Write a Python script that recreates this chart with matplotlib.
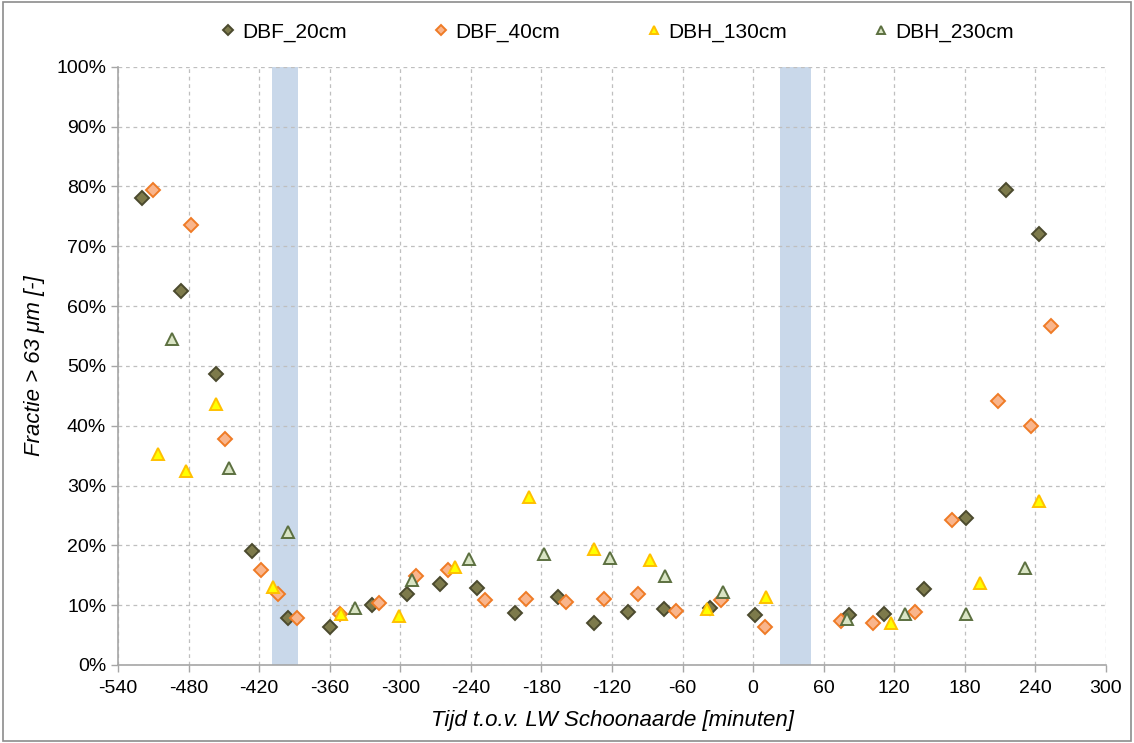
import matplotlib
matplotlib.use("Agg")
import matplotlib.pyplot as plt
from matplotlib.ticker import MultipleLocator, PercentFormatter
from matplotlib.patches import Rectangle

plt.rcParams['font.family'] = ['Liberation Sans', 'DejaVu Sans']
plt.rcParams['axes.unicode_minus'] = False

# Time relative to low water at Schoonaarde [minutes] and fraction > 63 um [%]
dbf20_t = [-519.5, -486.4, -456.5, -426.5, -395.6, -360, -323.8, -294.4, -266.6, -235.2,
           -202.5, -166, -135.1, -106.6, -76, -37, 1.5, 81.6, 111, 145.2, 180.6, 215.4, 243.1]
dbf20_v = [78.1, 62.6, 48.6, 19.0, 7.9, 6.4, 10.0, 11.8, 13.5, 12.9,
           8.7, 11.3, 7.1, 8.9, 9.4, 9.6, 8.4, 8.4, 8.5, 12.7, 24.6, 79.4, 72.1]

dbf40_t = [-510.6, -478.3, -449.4, -418.6, -403.6, -387.5, -351.5, -318.4, -286.5, -259.3,
           -228.2, -193.1, -158.9, -127, -98.1, -65.8, -27.6, 9.7, 75, 101.7,
           137.8, 169.2, 208.3, 236, 253]
dbf40_v = [79.4, 73.5, 37.8, 15.9, 11.8, 7.9, 8.5, 10.3, 14.8, 15.8,
           10.8, 11.0, 10.5, 11.1, 11.8, 9.1, 10.9, 6.3, 7.3, 7.0,
           8.9, 24.3, 44.1, 40.0, 56.7]

dbh130_t = [-506, -482, -457, -408, -350.4, -301.2, -253.7, -190.3, -135.1, -87.3,
            -39.5, 11.1, 117.5, 192.7, 243]
dbh130_v = [35.2, 32.5, 43.6, 13.1, 8.6, 8.2, 16.4, 28.1, 19.4, 17.6,
            9.3, 11.3, 7.0, 13.7, 27.5]

dbh230_t = [-493.8, -445.5, -395.6, -338.3, -289.9, -242, -177.9, -122.1, -75.2, -26,
            79.6, 129.3, 180.6, 230.9]
dbh230_v = [54.5, 33.0, 22.2, 9.5, 14.2, 17.8, 18.6, 17.9, 14.9, 12.2,
            7.7, 8.6, 8.6, 16.2]

# Highlighted time windows (slack water periods)
windows = [(-409, -387), (23, 49)]

x_ticks = list(range(-540, 301, 60))

fig = plt.figure(figsize=(11.34, 7.43), dpi=100)
ax = fig.add_axes([0.1041, 0.105, 0.8712, 0.805])

for x0, x1 in windows:
    ax.axvspan(x0, x1, color='#c9d8ea', zorder=0, lw=0)

series = [
    ('DBF_20cm', dbf20_t, dbf20_v, 'D', '#7d7a4b', '#4b4a2e', 7.2),
    ('DBF_40cm', dbf40_t, dbf40_v, 'D', '#f9b58c', '#ef7b26', 7.2),
    ('DBH_130cm', dbh130_t, dbh130_v, '^', '#ffff00', '#ffc000', 8),
    ('DBH_230cm', dbh230_t, dbh230_v, '^', '#d9e4c4', '#5c7040', 8),
]
for name, t, v, mk, fc, ec, ms in series:
    ax.plot(t, v, linestyle='none', marker=mk, markersize=ms, markerfacecolor=fc,
            markeredgecolor=ec, markeredgewidth=1.4, label=name, zorder=3)

ax.set_xlim(-540, 300)
ax.set_ylim(0, 100)
ax.set_xticks(x_ticks)
ax.yaxis.set_major_locator(MultipleLocator(10))
ax.yaxis.set_major_formatter(PercentFormatter(decimals=0))

ax.grid(True, which='major', linestyle=(0, (3, 3)), color='#bfbfbf', linewidth=0.9, zorder=1)
ax.set_axisbelow(True)
for s in ('top', 'right'):
    ax.spines[s].set_visible(False)
for s in ('left', 'bottom'):
    ax.spines[s].set_color('#a6a6a6')
    ax.spines[s].set_linewidth(1.2)
ax.tick_params(axis='both', colors='#a6a6a6', labelcolor='black', labelsize=14,
               length=5, width=1)
ax.tick_params(axis='x', pad=6)

ax.set_xlabel('Tijd t.o.v. LW Schoonaarde [minuten]', fontsize=16, style='italic', labelpad=9)
ax.set_ylabel('Fractie > 63 μm [-]', fontsize=16, style='italic', labelpad=8)

leg = fig.legend(loc='center', bbox_to_anchor=(0.543, 0.957), ncol=4, frameon=False,
                 fontsize=15, columnspacing=4.0, handletextpad=0.2, markerscale=0.7,
                 handlelength=1.0)

fig.patches.append(Rectangle((0.003, 0.003), 0.994, 0.994, transform=fig.transFigure,
                             fill=False, edgecolor='#8c8c8c', linewidth=1.2))

fig.savefig('out.png', dpi=100)
